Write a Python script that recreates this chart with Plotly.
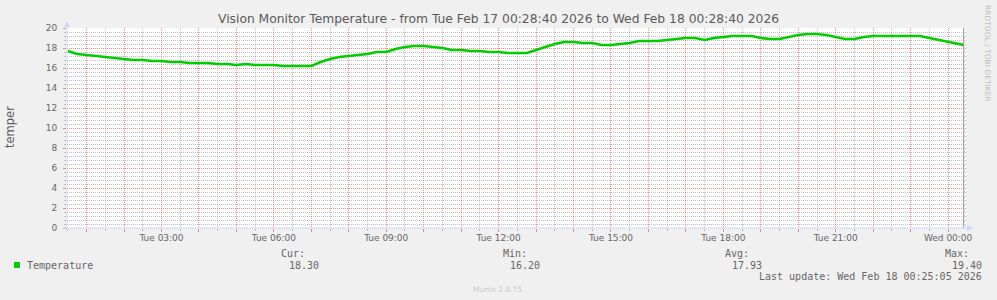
import plotly.graph_objects as go
from datetime import datetime, timedelta

# ---------------- data ----------------
title_text = "Vision Monitor Temperature - from Tue Feb 17 00:28:40 2026 to Wed Feb 18 00:28:40 2026"
range_start = "2026-02-17 00:28:40"
range_end = "2026-02-18 00:28:40"
last_update = "2026-02-18 00:25:05"
series_name = "Temperature"
y_title = "temper"

sample_times = [
    "00:30", "00:45", "01:00", "01:15", "01:30", "01:45", "02:00", "02:15", "02:30", "02:45",
    "03:00", "03:15", "03:30", "03:45", "04:00", "04:15", "04:30", "04:45", "05:00", "05:15",
    "05:30", "05:45", "06:00", "06:15", "06:30", "06:45", "07:00", "07:15", "07:30", "07:45",
    "08:00", "08:15", "08:30", "08:45", "09:00", "09:15", "09:30", "09:45", "10:00", "10:15",
    "10:30", "10:45", "11:00", "11:15", "11:30", "11:45", "12:00", "12:15", "12:30", "12:45",
    "13:00", "13:15", "13:30", "13:45", "14:00", "14:15", "14:30", "14:45", "15:00", "15:15",
    "15:30", "15:45", "16:00", "16:15", "16:30", "16:45", "17:00", "17:15", "17:30", "17:45",
    "18:00", "18:15", "18:30", "18:45", "19:00", "19:15", "19:30", "19:45", "20:00", "20:15",
    "20:30", "20:45", "21:00", "21:15", "21:30", "21:45", "22:00", "22:15", "22:30", "22:45",
    "23:00", "23:15", "23:30", "23:45", "00:00", "00:15", "00:25",
]
temperature = [
    17.7, 17.4, 17.3, 17.2, 17.1, 17.0, 16.9, 16.8, 16.8, 16.7,
    16.7, 16.6, 16.6, 16.5, 16.5, 16.5, 16.4, 16.4, 16.3, 16.4,
    16.3, 16.3, 16.3, 16.2, 16.2, 16.2, 16.2, 16.6, 16.9, 17.1,
    17.2, 17.3, 17.4, 17.6, 17.6, 17.9, 18.1, 18.2, 18.2, 18.1,
    18.0, 17.8, 17.8, 17.7, 17.7, 17.6, 17.6, 17.5, 17.5, 17.5,
    17.8, 18.1, 18.4, 18.6, 18.6, 18.5, 18.5, 18.3, 18.3, 18.4,
    18.5, 18.7, 18.7, 18.7, 18.8, 18.9, 19.0, 19.0, 18.8, 19.0,
    19.1, 19.2, 19.2, 19.2, 19.0, 18.9, 18.9, 19.1, 19.3, 19.4,
    19.4, 19.3, 19.1, 18.9, 18.9, 19.1, 19.2, 19.2, 19.2, 19.2,
    19.2, 19.2, 19.0, 18.8, 18.6, 18.4, 18.3,
]

tick_times = [
    "2026-02-17 01:00", "2026-02-17 02:00", "2026-02-17 03:00", "2026-02-17 04:00",
    "2026-02-17 05:00", "2026-02-17 06:00", "2026-02-17 07:00", "2026-02-17 08:00",
    "2026-02-17 09:00", "2026-02-17 10:00", "2026-02-17 11:00", "2026-02-17 12:00",
    "2026-02-17 13:00", "2026-02-17 14:00", "2026-02-17 15:00", "2026-02-17 16:00",
    "2026-02-17 17:00", "2026-02-17 18:00", "2026-02-17 19:00", "2026-02-17 20:00",
    "2026-02-17 21:00", "2026-02-17 22:00", "2026-02-17 23:00", "2026-02-18 00:00",
]
tick_labels = [
    "", "", "Tue 03:00", "", "", "Tue 06:00", "", "", "Tue 09:00", "", "", "Tue 12:00",
    "", "", "Tue 15:00", "", "", "Tue 18:00", "", "", "Tue 21:00", "", "", "Wed 00:00",
]

stat_headers = ["Cur:", "Min:", "Avg:", "Max:"]
stat_values = ["18.30", "16.20", "17.93", "19.40"]
last_update_text = "Last update: Wed Feb 18 00:25:05 2026"
side_text = "RRDTOOL / TOBI OETIKER"
footer_text = "Munin 2.0.75"

# ---------------- build timestamps ----------------
base = datetime(2026, 2, 17)
stamps = []
day = 0
prev = None
for t in sample_times:
    if prev is not None and t < prev:
        day += 1
    prev = t
    hh, mm = map(int, t.split(":"))
    stamps.append(base + timedelta(days=day, hours=hh, minutes=mm))

half_hours = [(base + timedelta(minutes=30 + 60 * i)).strftime("%Y-%m-%d %H:%M") for i in range(24)]

# ---------------- layout geometry ----------------
W, H = 997, 300
L, R, T, B = 67, 966, 28, 228


def px(x):
    return (x - L) / (R - L)


def py(y):
    return (B - y) / (B - T)


FONT = "DejaVu Sans"
MONO = "DejaVu Sans Mono"
FC = "#666666"
MGRID = "rgba(230,80,80,0.65)"
GRID = "rgba(150,150,150,0.6)"
AXIS = "#CFD6F8"
LINE = "#00CC00"
DOT = "1px,1px"
Y_MIN, Y_MAX = 0, 20

fig = go.Figure()
fig.add_trace(go.Scatter(
    x=stamps, y=temperature, mode="lines", name=series_name, xaxis="x2",
    line=dict(color=LINE, width=2.6), showlegend=False,
))

fig.update_layout(
    width=W, height=H,
    margin=dict(l=L, r=W - R, t=T, b=H - B, pad=0),
    paper_bgcolor="#F0F0F0", plot_bgcolor="#FFFFFF",
    font=dict(family=FONT, color=FC),
    xaxis=dict(
        type="date", range=[range_start, range_end],
        tickmode="array", tickvals=tick_times, ticktext=tick_labels,
        showgrid=False,
        ticks="outside", ticklen=3, tickcolor=MGRID, tickwidth=1,
        tickfont=dict(family=FONT, size=9, color=FC),
        ticklabelstandoff=-2,
        showline=False, zeroline=False,
        minor=dict(tickmode="array", tickvals=half_hours, showgrid=False,
                   ticks="outside", ticklen=2, tickcolor=GRID),
    ),
    xaxis2=dict(
        type="date", range=[range_start, range_end], overlaying="x",
        tickmode="array", tickvals=tick_times, showticklabels=False, ticks="",
        showgrid=True, gridcolor=MGRID, griddash=DOT, gridwidth=1,
        showline=False, zeroline=False,
        minor=dict(tickmode="array", tickvals=half_hours, showgrid=True,
                   gridcolor=GRID, griddash=DOT, gridwidth=1, ticks=""),
    ),
    yaxis=dict(
        range=[Y_MIN, Y_MAX], tick0=0, dtick=2,
        showgrid=True, gridcolor=MGRID, griddash=DOT, gridwidth=1,
        ticks="outside", ticklen=3, tickcolor=MGRID,
        tickfont=dict(family=FONT, size=9, color=FC),
        ticklabelstandoff=4,
        showline=False, zeroline=False,
        minor=dict(tick0=0, dtick=0.4, showgrid=True,
                   gridcolor=GRID, griddash=DOT, gridwidth=1,
                   ticks="outside", ticklen=2, tickcolor=GRID),
    ),
)

shapes = []
# last update vertical rule
shapes.append(dict(type="line", xref="x", yref="y", x0=last_update, x1=last_update,
                   y0=Y_MIN, y1=Y_MAX, line=dict(color="#8A8A8A", width=1)))
# axes with arrows
shapes.append(dict(type="line", xref="paper", yref="paper", x0=px(64), x1=px(968),
                   y0=py(228), y1=py(228), line=dict(color=AXIS, width=1)))
shapes.append(dict(type="path", xref="paper", yref="paper",
                   path=f"M {px(967)} {py(225)} L {px(973)} {py(228)} L {px(967)} {py(231)} Z",
                   fillcolor=AXIS, line=dict(color=AXIS, width=0)))
shapes.append(dict(type="line", xref="paper", yref="paper", x0=px(67), x1=px(67),
                   y0=py(231), y1=py(25), line=dict(color=AXIS, width=1)))
shapes.append(dict(type="path", xref="paper", yref="paper",
                   path=f"M {px(64)} {py(27)} L {px(67)} {py(21)} L {px(70)} {py(27)} Z",
                   fillcolor=AXIS, line=dict(color=AXIS, width=0)))
# legend swatch
shapes.append(dict(type="rect", xref="paper", yref="paper", x0=px(14), x1=px(20),
                   y0=py(268), y1=py(262), fillcolor=LINE, line=dict(width=0)))
fig.update_layout(shapes=shapes)

ann = []


def text(x, y, s, size, color=FC, family=FONT, xanchor="left", angle=0):
    ann.append(dict(xref="paper", yref="paper", x=px(x), y=py(y), text=s, showarrow=False,
                    xanchor=xanchor, yanchor="middle", textangle=angle,
                    font=dict(family=family, size=size, color=color), borderpad=0))


text(498, 19, title_text, 12.3, color="#5A5A5A", xanchor="center")
text(10, 127, y_title, 11.5, color="#5A5A5A", xanchor="center", angle=-90)
text(988, 53, side_text, 7.5, color="#BDBDBD", xanchor="center", angle=90)
text(26, 265, series_name, 10, family=MONO)
header_right = [306, 528, 750, 970]
value_right = [319.5, 541, 762.5, 983]
for h, v, hr, vr in zip(stat_headers, stat_values, header_right, value_right):
    text(hr, 253, h, 10, family=MONO, xanchor="right")
    text(vr, 265, v, 10, family=MONO, xanchor="right")
text(983, 276.5, last_update_text, 10, family=MONO, xanchor="right")
text(497.5, 289, footer_text, 7.5, color="#C8C8C8", xanchor="center")
fig.update_layout(annotations=ann)

fig.write_html("out.html")
